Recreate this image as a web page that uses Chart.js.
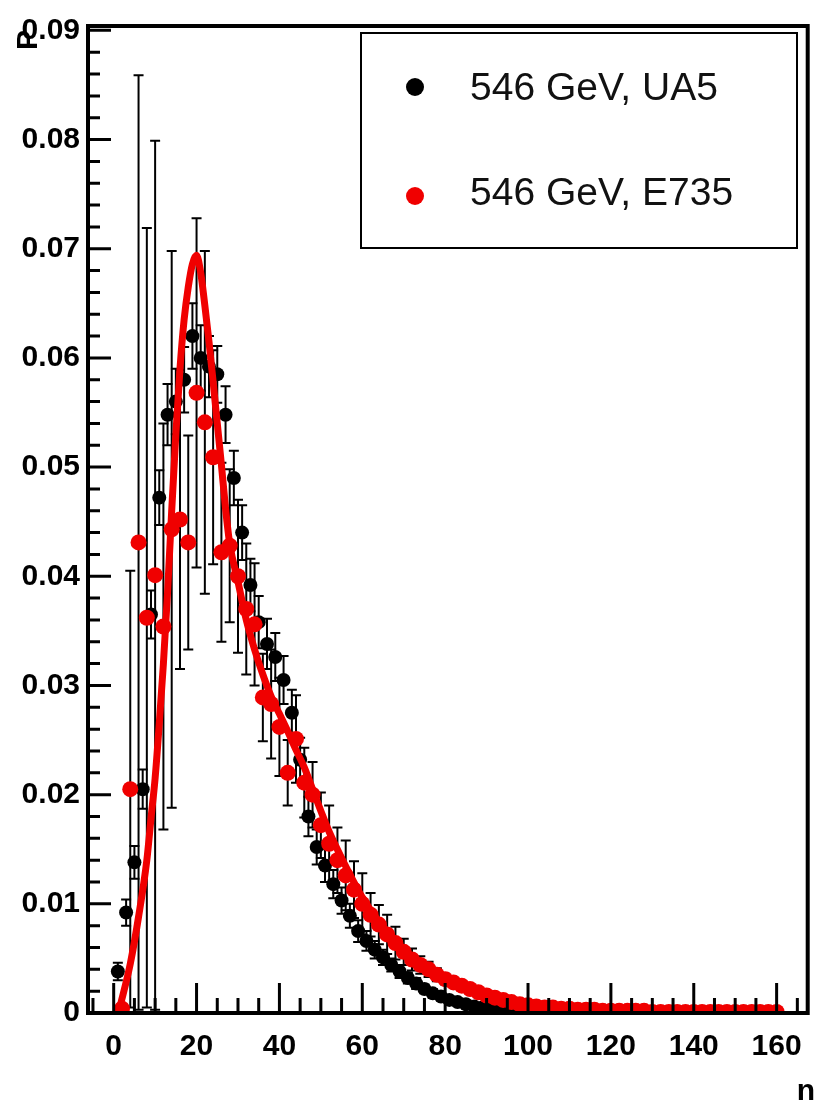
<!DOCTYPE html>
<html>
<head>
<meta charset="utf-8">
<script src="https://cdn.jsdelivr.net/npm/chart.js@4.4.0/dist/chart.umd.min.js"></script>
<style>
html, body { margin: 0; padding: 0; background: #fff; }
canvas { display: block; }
</style>
</head>
<body>
<canvas id="multChart" width="818" height="1111"></canvas>
<script>
// UA5, 546 GeV (black points)
var ua5N = [1, 3, 5, 7, 9, 11, 13, 15, 17, 19, 21, 23, 25, 27, 29, 31, 33, 35, 37, 39,
            41, 43, 45, 47, 49, 51, 53, 55, 57, 59, 61, 63, 65, 67, 69, 71, 73, 75, 77, 79,
            81, 83, 85, 87, 89, 91, 93, 95, 97, 99, 101, 103, 105];
var ua5P = [0.0038, 0.0092, 0.0138, 0.0205, 0.0365, 0.0472, 0.0548, 0.0560, 0.0580, 0.0620,
            0.0600, 0.0592, 0.0585, 0.0548, 0.0490, 0.0440, 0.0392, 0.0358, 0.0338, 0.0326,
            0.0305, 0.0275, 0.0232, 0.0180, 0.0152, 0.0135, 0.0118, 0.0103, 0.0089, 0.0075,
            0.0066, 0.0058, 0.0051, 0.0044, 0.0038, 0.0032, 0.0027, 0.0022, 0.0018, 0.0015,
            0.0012, 0.0010, 0.0008, 0.0006, 0.0005, 0.0004, 0.0003, 0.0002, 0.00015, 0.0001,
            0.0001, 0.00005, 0.00005];
var ua5Err = [0.0008, 0.0012, 0.0015, 0.0018, 0.0022, 0.0025, 0.0028, 0.0030, 0.0030, 0.0030,
              0.0030, 0.0028, 0.0026, 0.0026, 0.0025, 0.0025, 0.0024, 0.0024, 0.0023, 0.0022,
              0.0022, 0.0021, 0.0020, 0.0018, 0.0016, 0.0015, 0.0013, 0.0012, 0.0011, 0.0010,
              0.0009, 0.0008, 0.0007, 0.0006, 0.0006, 0.0005, 0.0005, 0.0004, 0.0004, 0.0003,
              0.0003, 0.0003, 0.0002, 0.0002, 0.0002, 0.0002, 0.0001, 0.0001, 0.0001, 0.0001,
              0.0001, 0.0001, 0.0001];

// E735, 546 GeV (red points)
var e735N = [2, 4, 6, 8, 10, 12, 14, 16, 18, 20, 22, 24, 26, 28, 30, 32, 34, 36, 38, 40,
             42, 44, 46, 48, 50, 52, 54, 56, 58, 60, 62, 64, 66, 68, 70, 72, 74, 76, 78, 80,
             82, 84, 86, 88, 90, 92, 94, 96, 98, 100, 102, 104, 106, 108, 110, 112, 114, 116, 118, 120,
             122, 124, 126, 128, 130, 132, 134, 136, 138, 140, 142, 144, 146, 148, 150, 152, 154, 156, 158, 160];
var e735P = [0.0004, 0.0205, 0.0431, 0.0362, 0.0401, 0.0354, 0.0443, 0.0452, 0.0431, 0.0568,
             0.0541, 0.0509, 0.0422, 0.0428, 0.0400, 0.0370, 0.0356, 0.0289, 0.0283, 0.0262,
             0.0220, 0.0251, 0.0211, 0.0200, 0.0172, 0.0155, 0.0140, 0.0126, 0.0113, 0.0100,
             0.0090, 0.0081, 0.0072, 0.0064, 0.0056, 0.0049, 0.0044, 0.0040, 0.0035, 0.0031,
             0.0028, 0.0025, 0.0022, 0.0019, 0.0016, 0.0014, 0.0012, 0.0010, 0.0008, 0.0007,
             0.0006, 0.0005, 0.0005, 0.0004, 0.0004, 0.0003, 0.0003, 0.0003, 0.0002, 0.0002,
             0.0002, 0.0002, 0.0002, 0.0002, 0.0001, 0.0001, 0.0001, 0.0001, 0.0001, 0.0001,
             0.0001, 0.0001, 0.0001, 0.0001, 0.0001, 0.0001, 0.0001, 0.0001, 0.0001, 0.0001];
var e735Err = [0.0003, 0.0200, 0.0428, 0.0357, 0.0398, 0.0186, 0.0255, 0.0137, 0.0098, 0.0160,
               0.0157, 0.0098, 0.0082, 0.0070, 0.0070, 0.0060, 0.0056, 0.0040, 0.0050, 0.0045,
               0.0030, 0.0040, 0.0032, 0.0030, 0.0030, 0.0035, 0.0030, 0.0032, 0.0026, 0.0028,
               0.0020, 0.0018, 0.0018, 0.0015, 0.0012, 0.0010, 0.0008, 0.0007, 0.0006, 0.0005,
               0.0004, 0.0004, 0.0003, 0.0003, 0.0003, 0.0002, 0.0002, 0.0002, 0.0002, 0.0002,
               0.0001, 0.0001, 0.0001, 0.0001, 0.0001, 0.0001, 0.0001, 0.0001, 0.0001, 0.0001,
               0.0001, 0.0001, 0.0001, 0.0001, 0.0001, 0.0001, 0.0001, 0.0001, 0.0001, 0.0001,
               0.0001, 0.0001, 0.0001, 0.0001, 0.0001, 0.0001, 0.0001, 0.0001, 0.0001, 0.0001];

// fitted curve (red line)
var fitN = [1.4, 4, 6, 8, 9, 10, 11, 12, 13, 14, 15, 16, 17, 18, 19, 20, 21, 22, 23, 24,
            25, 26, 27, 28, 30, 32, 34, 36, 38, 40, 42, 44, 46, 48, 50, 52, 55, 60, 65, 70,
            75, 80, 85, 90, 95, 100, 110, 120, 130, 145, 160];
var fitP = [0.0004, 0.0045, 0.0088, 0.0140, 0.0178, 0.0215, 0.0265, 0.0320, 0.0385, 0.0460,
            0.0530, 0.0590, 0.0635, 0.0665, 0.0686, 0.0694, 0.0678, 0.0648, 0.0615, 0.0578,
            0.0540, 0.0502, 0.0462, 0.0430, 0.0395, 0.0360, 0.0333, 0.0310, 0.0290, 0.0274,
            0.0258, 0.0241, 0.0225, 0.0205, 0.0185, 0.0166, 0.0142, 0.0106, 0.0079, 0.0058,
            0.0043, 0.0031, 0.0023, 0.0016, 0.0011, 0.0008, 0.0004, 0.0002, 0.0001, 0.00005, 0.00002];

var xTicks = [0, 20, 40, 60, 80, 100, 120, 140, 160];
var yTicks = [0, 0.01, 0.02, 0.03, 0.04, 0.05, 0.06, 0.07, 0.08, 0.09];

var tickFont = { family: '"Liberation Sans", Arial, Helvetica, sans-serif', size: 30, weight: 'bold' };

function pts(xs, ys) {
    return xs.map(function (x, i) { return { x: x, y: ys[i] }; });
}

// error bars, drawn just before the points of their own dataset
var errorBars = {
    id: 'errorBars',
    beforeDatasetDraw: function (chart, args) {
        var ds = chart.data.datasets[args.index];
        if (!ds.errors) return;
        var ctx = chart.ctx, a = chart.chartArea;
        var xs = chart.scales.x, ys = chart.scales.y;
        ctx.save();
        ctx.beginPath();
        ctx.rect(a.left, a.top, a.right - a.left, a.bottom - a.top);
        ctx.clip();
        ctx.strokeStyle = '#000';
        ctx.lineWidth = 2;
        ds.data.forEach(function (p, i) {
            var e = ds.errors[i];
            var px = xs.getPixelForValue(p.x);
            var top = ys.getPixelForValue(p.y + e);
            var bot = ys.getPixelForValue(p.y - e);
            ctx.beginPath();
            ctx.moveTo(px, top); ctx.lineTo(px, bot);
            ctx.moveTo(px - ds.capHalf, top); ctx.lineTo(px + ds.capHalf, top);
            ctx.moveTo(px - ds.capHalf, bot); ctx.lineTo(px + ds.capHalf, bot);
            ctx.stroke();
        });
        ctx.restore();
    }
};

// ROOT-like frame, inward ticks, legend box and axis titles
var rootFrame = {
    id: 'rootFrame',
    beforeDraw: function (chart) {
        var ctx = chart.ctx;
        ctx.save();
        ctx.fillStyle = '#000';
        ctx.font = 'bold 30px "Liberation Sans", Arial, sans-serif';
        ctx.translate(37, 50);
        ctx.rotate(-Math.PI / 2);
        ctx.textAlign = 'left';
        ctx.textBaseline = 'alphabetic';
        ctx.fillText('P', 0, 0);
        ctx.restore();
    },
    afterDraw: function (chart) {
        var ctx = chart.ctx, a = chart.chartArea;
        var xs = chart.scales.x, ys = chart.scales.y;
        ctx.save();
        ctx.strokeStyle = '#000';
        ctx.lineWidth = 3;
        ctx.beginPath();
        for (var i = 0; i <= 45; i++) {
            var py = ys.getPixelForValue(i * 0.002);
            var len = (i % 5 === 0) ? 23 : 12;
            ctx.moveTo(a.left, py); ctx.lineTo(a.left + len, py);
        }
        for (var v = -5; v <= 165; v += 5) {
            var px = xs.getPixelForValue(v);
            var l2 = (v % 20 === 0) ? 30 : 15;
            ctx.moveTo(px, a.bottom); ctx.lineTo(px, a.bottom - l2);
        }
        ctx.stroke();

        ctx.lineWidth = 4;
        ctx.strokeRect(a.left, a.top, a.right - a.left, a.bottom - a.top);

        // legend
        ctx.lineWidth = 2;
        ctx.strokeRect(361, 33, 436, 215);
        var ds = chart.data.datasets;
        var rows = [{ d: ds[2], y: 87, base: 100 }, { d: ds[1], y: 196, base: 205 }];
        ctx.font = '39px "Liberation Sans", Arial, sans-serif';
        ctx.textAlign = 'left';
        ctx.textBaseline = 'alphabetic';
        rows.forEach(function (r) {
            ctx.fillStyle = r.d.pointBackgroundColor;
            ctx.beginPath();
            ctx.arc(415, r.y, 9, 0, Math.PI * 2);
            ctx.fill();
            ctx.fillStyle = '#111';
            ctx.fillText(r.d.label, 470, r.base);
        });

        // x title
        ctx.font = 'bold 30px "Liberation Sans", Arial, sans-serif';
        ctx.fillStyle = '#000';
        ctx.textAlign = 'right';
        ctx.fillText('n', 815, 1100);
        ctx.restore();
    }
};

var ctx = document.getElementById('multChart').getContext('2d');
var chart = new Chart(ctx, {
    type: 'scatter',
    data: {
        datasets: [{
            label: 'fit',
            data: pts(fitN, fitP),
            showLine: true,
            borderColor: '#f00000',
            borderWidth: 7,
            pointRadius: 0,
            cubicInterpolationMode: 'monotone',
            order: 1
        }, {
            label: '546 GeV, E735',
            data: pts(e735N, e735P),
            showLine: false,
            pointRadius: 8,
            pointBorderWidth: 0,
            pointBackgroundColor: '#f00000',
            pointBorderColor: '#f00000',
            errors: e735Err,
            capHalf: 5,
            order: 2
        }, {
            label: '546 GeV, UA5',
            data: pts(ua5N, ua5P),
            showLine: false,
            pointRadius: 7,
            pointBorderWidth: 0,
            pointBackgroundColor: '#000000',
            pointBorderColor: '#000000',
            errors: ua5Err,
            capHalf: 5,
            order: 3
        }]
    },
    options: {
        responsive: false,
        animation: false,
        layout: { padding: { top: 21, right: 6, left: 0, bottom: 0 } },
        plugins: {
            legend: { display: false },
            tooltip: { enabled: false }
        },
        scales: {
            x: {
                type: 'linear',
                min: -6.2,
                max: 167.5,
                afterBuildTicks: function (s) { s.ticks = xTicks.map(function (v) { return { value: v }; }); },
                afterFit: function (s) { s.height = 98; },
                grid: { display: false, drawTicks: false },
                border: { display: false },
                ticks: { font: tickFont, color: '#000', padding: 16, maxRotation: 0, autoSkip: false,
                         callback: function (v) { return String(v); } }
            },
            y: {
                type: 'linear',
                min: 0,
                max: 0.0904,
                afterBuildTicks: function (s) { s.ticks = yTicks.map(function (v) { return { value: v }; }); },
                afterFit: function (s) { s.width = 88; },
                grid: { display: false, drawTicks: false },
                border: { display: false },
                ticks: { font: tickFont, color: '#000', padding: 8, autoSkip: false,
                         callback: function (v) { return v === 0 ? '0' : v.toFixed(2); } }
            }
        }
    },
    plugins: [errorBars, rootFrame]
});
</script>
</body>
</html>
